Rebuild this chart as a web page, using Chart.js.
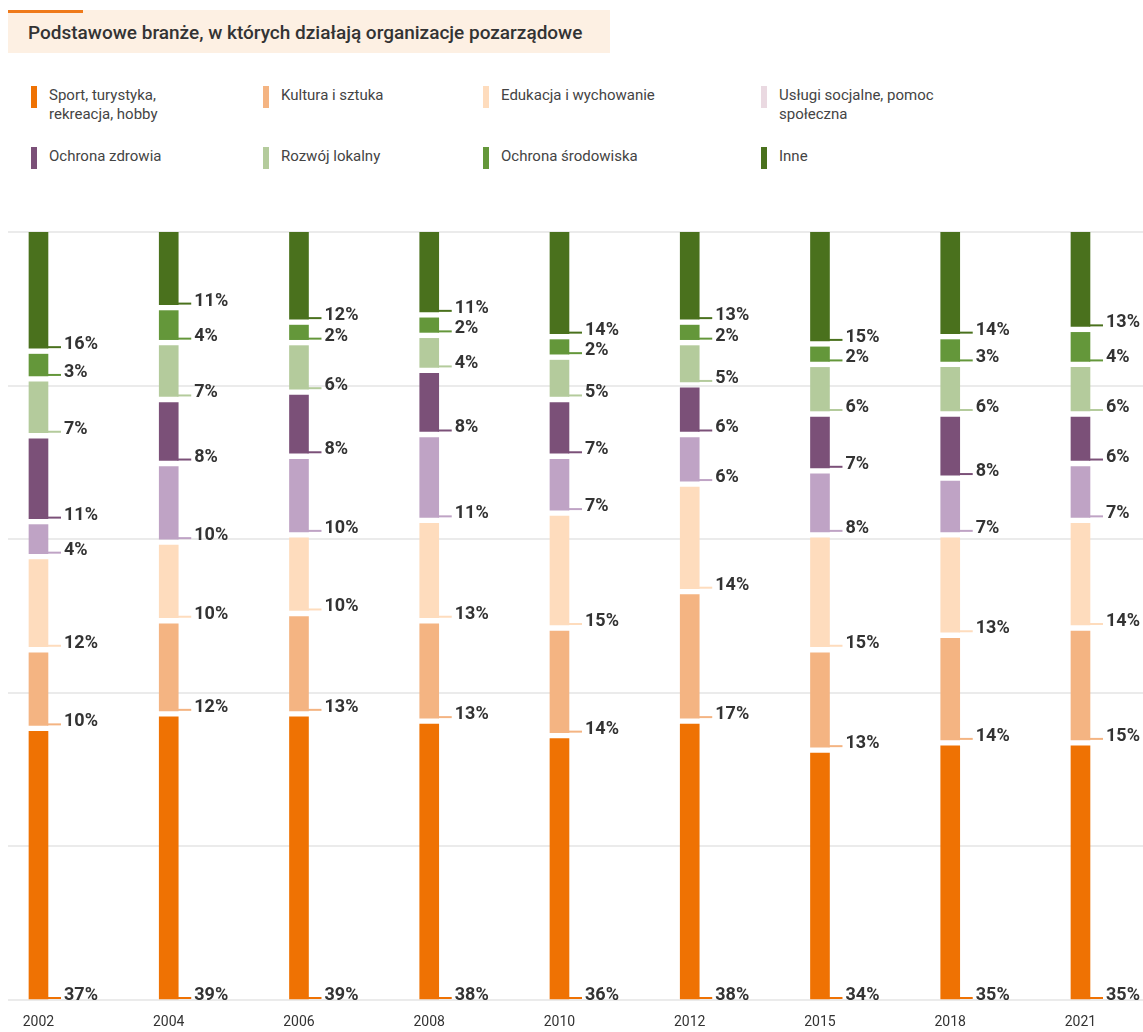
<!DOCTYPE html>
<html lang="pl">
<head>
<meta charset="utf-8">
<script src="https://cdn.jsdelivr.net/npm/chart.js@4.4.0/dist/chart.umd.min.js"></script>
<style>
  body { margin: 0; background: #fff; font-family: Roboto, "Noto Sans", sans-serif; }
  #wrap { position: relative; width: 1143px; height: 1032px; overflow: hidden; }
  #chart { position: absolute; left: 0; top: 0; }
  .title {
    position: absolute; left: 8px; top: 10px; width: 602px; height: 43px;
    background: #fdf0e3; color: #333; font-size: 19px; font-weight: 500;
    line-height: 45px; padding-left: 20px; box-sizing: border-box;
  }
  .title::before {
    content: ""; position: absolute; left: 0; top: 0; width: 75px; height: 3px; background: #ef7a1a;
  }
  .legend-item { position: absolute; color: #444; font-size: 15px; line-height: 19px; }
  .legend-item span.sw { position: absolute; left: -18px; top: 0; width: 6px; height: 22px; }
</style>
</head>
<body>
<div id="wrap">
  <div class="title">Podstawowe branże, w których działają organizacje pozarządowe</div>
  <div id="legend"></div>
  <canvas id="chart" width="1143" height="1032"></canvas>
</div>
<script>
const years = ['2002', '2004', '2006', '2008', '2010', '2012', '2015', '2018', '2021'];
const categories = [
  'Sport, turystyka,\nrekreacja, hobby',
  'Kultura i sztuka',
  'Edukacja i wychowanie',
  'Usługi socjalne, pomoc\nspołeczna',
  'Ochrona zdrowia',
  'Rozwój lokalny',
  'Ochrona środowiska',
  'Inne'
];
const sport = [37, 39, 39, 38, 36, 38, 34, 35, 35];
const kultura = [10, 12, 13, 13, 14, 17, 13, 14, 15];
const edukacja = [12, 10, 10, 13, 15, 14, 15, 13, 14];
const uslugi = [4, 10, 10, 11, 7, 6, 8, 7, 7];
const zdrowie = [11, 8, 8, 8, 7, 6, 7, 8, 6];
const rozwoj = [7, 7, 6, 4, 5, 5, 6, 6, 6];
const srodowisko = [3, 4, 2, 2, 2, 2, 2, 3, 4];
const inne = [16, 11, 12, 11, 14, 13, 15, 14, 13];

const seriesValues = [sport, kultura, edukacja, uslugi, zdrowie, rozwoj, srodowisko, inne];
const barColors = ['#ef7203', '#f4b482', '#fedcbd', '#bfa3c5', '#7b5078', '#b4cb9c', '#64973a', '#4a711d'];
const swatchColors = ['#ef7203', '#f4b482', '#fedcbd', '#ead9e1', '#7b5078', '#b4cb9c', '#64973a', '#4a711d'];

// odstęp między segmentami (w jednostkach osi), skala obejmuje 100% + odstępy
const GAP_UNITS = 0.826;
const Y_MAX = 100 + (seriesValues.length - 1) * GAP_UNITS;

// legenda w HTML (dwa wiersze po cztery)
const legendPos = [[49, 86], [281, 86], [501, 86], [779, 86], [49, 147], [281, 147], [501, 147], [779, 147]];
const legendEl = document.getElementById('legend');
categories.forEach((name, i) => {
  const item = document.createElement('div');
  item.className = 'legend-item';
  item.style.left = legendPos[i][0] + 'px';
  item.style.top = legendPos[i][1] + 'px';
  item.innerHTML = '<span class="sw" style="background:' + swatchColors[i] + '"></span>' + name.replace('\n', '<br>');
  legendEl.appendChild(item);
});

// kreska i etykieta przy dole każdego segmentu
const segmentLabels = {
  id: 'segmentLabels',
  afterDatasetsDraw(chart) {
    const ctx = chart.ctx;
    ctx.save();
    ctx.font = 'bold 18px Roboto, "Noto Sans", sans-serif';
    ctx.textAlign = 'left';
    ctx.textBaseline = 'alphabetic';
    chart.data.datasets.forEach((ds, di) => {
      const meta = chart.getDatasetMeta(di);
      meta.data.forEach((bar, i) => {
        const p = bar.getProps(['x', 'y', 'base', 'width'], true);
        const right = p.x + p.width / 2;
        const bottom = Math.max(p.base, p.y);
        ctx.strokeStyle = ds.backgroundColor;
        ctx.lineWidth = 2;
        ctx.beginPath();
        ctx.moveTo(right - 1, bottom - 1);
        ctx.lineTo(right + 13, bottom - 1);
        ctx.stroke();
        ctx.fillStyle = '#333';
        ctx.fillText(seriesValues[di][i] + '%', right + 16, bottom + 1);
      });
    });
    ctx.restore();
  }
};

// segmenty jako słupki "pływające": [początek, koniec]
const datasets = seriesValues.map((vals, di) => ({
  label: categories[di],
  data: vals.map((v, i) => {
    let start = di * GAP_UNITS;
    for (let k = 0; k < di; k++) start += seriesValues[k][i];
    return { x: i, y: [start, start + v] };
  }),
  backgroundColor: barColors[di],
  borderWidth: 0,
  grouped: false,
  barThickness: 19
}));

new Chart(document.getElementById('chart'), {
  type: 'bar',
  data: { datasets },
  options: {
    responsive: false,
    animation: false,
    layout: { padding: { top: 232, left: 8, right: 0, bottom: 0 } },
    plugins: { legend: { display: false }, tooltip: { enabled: false } },
    scales: {
      x: {
        type: 'linear',
        offset: false,
        min: -0.234,
        max: 8.48,
        grid: { display: false, drawTicks: false },
        border: { display: false },
        afterBuildTicks: (axis) => { axis.ticks = years.map((y, i) => ({ value: i })); },
        afterFit: (axis) => { axis.height = 32; },
        ticks: {
          autoSkip: false,
          maxRotation: 0,
          padding: 14,
          color: '#333',
          font: { family: 'Roboto, "Noto Sans", sans-serif', size: 14 },
          callback: (v) => years[v]
        }
      },
      y: {
        min: 0,
        max: Y_MAX,
        afterBuildTicks: (axis) => { axis.ticks = [0, 1, 2, 3, 4, 5].map(k => ({ value: k * Y_MAX / 5 })); },
        ticks: { display: false },
        grid: { color: '#ebebeb', lineWidth: 2, drawTicks: false },
        border: { display: false }
      }
    }
  },
  plugins: [segmentLabels]
});
</script>
</body>
</html>
